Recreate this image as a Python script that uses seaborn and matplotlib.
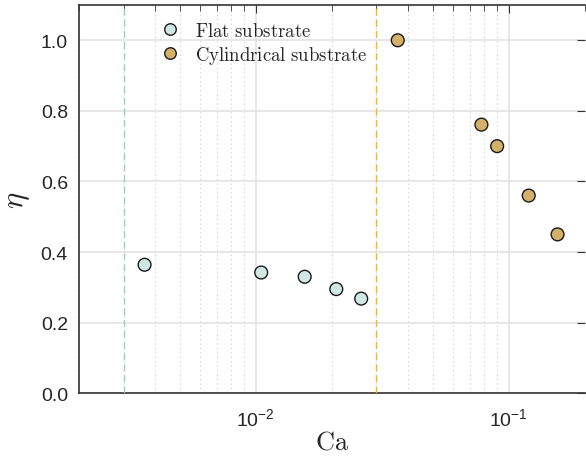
import numpy as np
import pandas as pd
import matplotlib
matplotlib.use('agg')
import matplotlib.pyplot as plt
import seaborn as sns

# data
flat_ca = [0.00363, 0.0105, 0.0156, 0.0208, 0.0261]
flat_eta = [0.364, 0.342, 0.330, 0.295, 0.268]
cyl_ca = [0.0364, 0.078, 0.090, 0.120, 0.156]
cyl_eta = [1.00, 0.761, 0.700, 0.560, 0.450]
labels = ["Flat substrate", "Cylindrical substrate"]
ca_flat_limit = 0.003
ca_cyl_limit = 0.03

df = pd.DataFrame({
    "Ca": flat_ca + cyl_ca,
    "eta": flat_eta + cyl_eta,
    "kind": [labels[0]] * len(flat_ca) + [labels[1]] * len(cyl_ca),
})

sns.set_style("white")
plt.rcParams['font.family'] = ['Liberation Sans', 'DejaVu Sans']
# sans math for the tick labels, CM for axis labels / legend (set per text)
plt.rcParams['mathtext.fontset'] = 'custom'
plt.rcParams['mathtext.rm'] = 'Liberation Sans'
plt.rcParams['mathtext.it'] = 'Liberation Sans:italic'
plt.rcParams['mathtext.bf'] = 'Liberation Sans:bold'

fig = plt.figure(figsize=(5.86, 4.6), dpi=100)
ax = fig.add_axes([0.135, 0.143, 0.863, 0.844])

palette = {labels[0]: "#cfe8e4", labels[1]: "#d4b06a"}
sns.scatterplot(data=df, x="Ca", y="eta", hue="kind", palette=palette, s=85,
                edgecolor="#1a1a1a", linewidth=1.0, ax=ax, zorder=5)

ax.axvline(ca_flat_limit, color="#a8c8c2", ls=(0, (5, 3)), lw=1.0, zorder=3)
ax.axvline(ca_cyl_limit, color="#e6b54e", ls=(0, (5, 3)), lw=1.0, zorder=3)

ax.set_xscale("log")
ax.set_xlim(0.002, 0.2)
ax.set_ylim(0, 1.1)
ax.set_yticks([0, 0.2, 0.4, 0.6, 0.8, 1.0])
ax.set_yticklabels(["0.0", "0.2", "0.4", "0.6", "0.8", "1.0"])

ax.grid(True, which="major", color="#e3e3e3", lw=1.2, zorder=0)
ax.grid(True, which="minor", axis="x", color="#cccccc", ls=(0, (1, 3)), lw=0.8, zorder=0)
ax.set_axisbelow(True)

ax.tick_params(which="both", direction="in", top=True, right=True, labelsize=14,
               color="#333333")
ax.tick_params(which="major", length=6)
ax.tick_params(which="minor", length=4)
ax.tick_params(axis="y", pad=8)
ax.tick_params(axis="x", pad=10)
for side in ["left", "bottom", "top"]:
    ax.spines[side].set_color("#333333")
    ax.spines[side].set_linewidth(1.2)
ax.spines["right"].set_visible(False)

ax.set_xlabel(r"$\mathrm{Ca}$", fontsize=19, labelpad=0, math_fontfamily="cm")
ax.set_ylabel(r"$\eta$", fontsize=22, labelpad=6, math_fontfamily="cm")

handles, _ = ax.get_legend_handles_labels()
leg = ax.legend(handles, [r"$\mathrm{Flat\ substrate}$", r"$\mathrm{Cylindrical\ substrate}$"],
                loc="upper left", bbox_to_anchor=(0.11, 1.0), frameon=False, fontsize=13.5,
                handletextpad=0.3, labelspacing=0.2, markerscale=0.9)
for t in leg.get_texts():
    t.set_math_fontfamily("cm")

fig.savefig("out.png", dpi=100)
